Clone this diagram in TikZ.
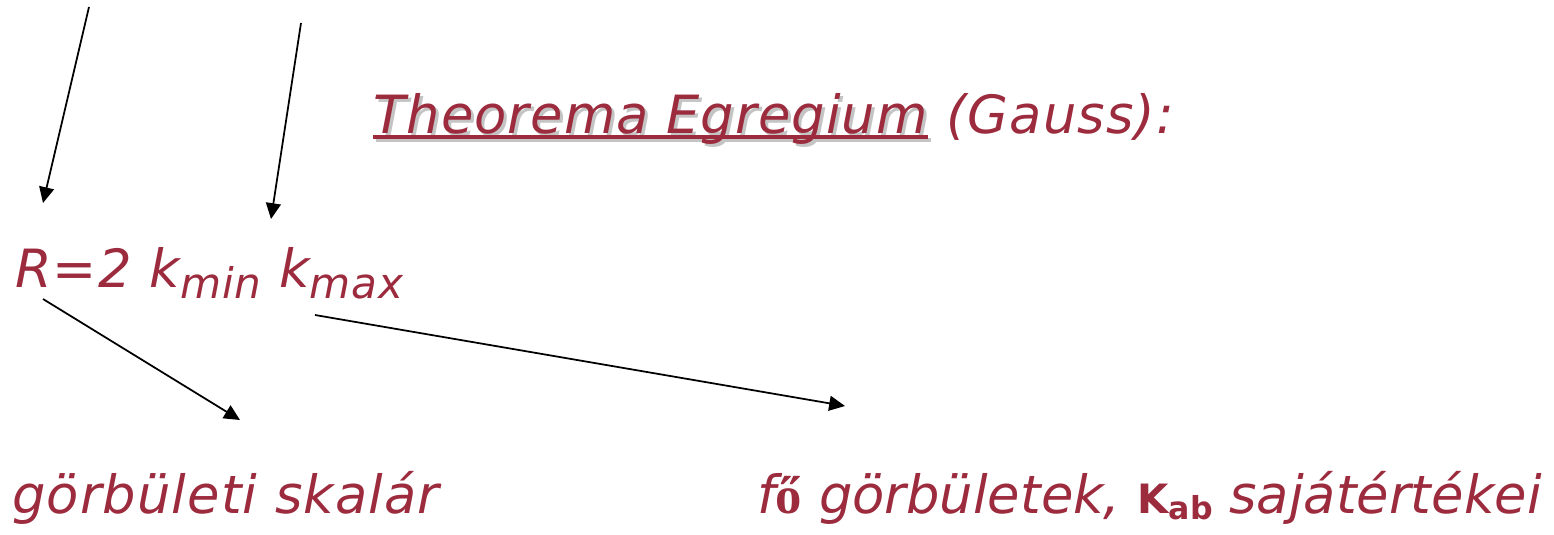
\documentclass[tikz,border=0pt]{standalone}
\usepackage{fontspec}
\setmainfont{DejaVu Sans}
\newfontfamily\oserif{Liberation Serif}
\usetikzlibrary{arrows.meta}
\definecolor{claret}{HTML}{9C2B3E}
\definecolor{shadowgrey}{HTML}{C4C4C4}
\tikzset{
  arr/.style={-{Triangle[length=9pt,width=8.5pt]}, line width=1pt},
  hand/.style={text=claret, inner sep=0pt, anchor=base west},
}
\newcommand{\bigfont}{\itshape\fontsize{30}{36}\selectfont\addfontfeatures{LetterSpace=2}}
\newcommand{\plainfont}{\itshape\fontsize{30}{36}\selectfont}
\newcommand{\subfont}{\itshape\fontsize{24}{28}\selectfont}

\begin{document}
\begin{tikzpicture}[x=0.02cm, y=-0.02cm]
  \useasboundingbox (0,0) rectangle (1554,534);

  % ── Title (underlined part casts a grey shadow) ──
  \node[hand, text=shadowgrey, font=\bigfont] (titleshadow) at (376,136) {Theorema Egregium};
  \draw[shadowgrey, line width=2.3pt] ([yshift=-2.2pt]titleshadow.base west) -- ([yshift=-2.2pt]titleshadow.base east);
  \node[hand, font=\bigfont] (title) at (373,133) {Theorema Egregium};
  \draw[claret, line width=2.3pt] ([yshift=-2.2pt]title.base west) -- ([yshift=-2.2pt]title.base east);
  \node[hand, font=\bigfont] (gauss) at (title.base east) {\ (Gauss):};

  % ── Formula ──
  \node[hand, font=\bigfont] (formula) at (15,287)
    {R=2 k\raisebox{-0.4ex}{\subfont min} k\raisebox{-0.4ex}{\subfont max}};

  % ── Names below ──
  \node[hand, font=\bigfont] (scalar) at (12,513) {görbületi skalár};
  \node[hand, font=\plainfont] (principal) at (757,513)
    {f{\oserif\upshape\bfseries ő} görbületek, {\upshape\bfseries\fontsize{23}{28}\selectfont K\raisebox{-0.3ex}{\fontsize{18}{22}\selectfont ab}} sajátértékei};

  % ── Arrow ends ──
  \coordinate (rfrom) at (89,7);
  \coordinate (rto) at (43,203);
  \coordinate (kfrom) at (301,23);
  \coordinate (kto) at (271,219);
  \coordinate (sfrom) at (43,299);
  \coordinate (sto) at (240,420);
  \coordinate (pfrom) at (315,315);
  \coordinate (pto) at (845,406);

  \draw[arr] (rfrom) -- (rto);
  \draw[arr] (kfrom) -- (kto);
  \draw[arr] (sfrom) -- (sto);
  \draw[arr] (pfrom) -- (pto);

\end{tikzpicture}
\end{document}
